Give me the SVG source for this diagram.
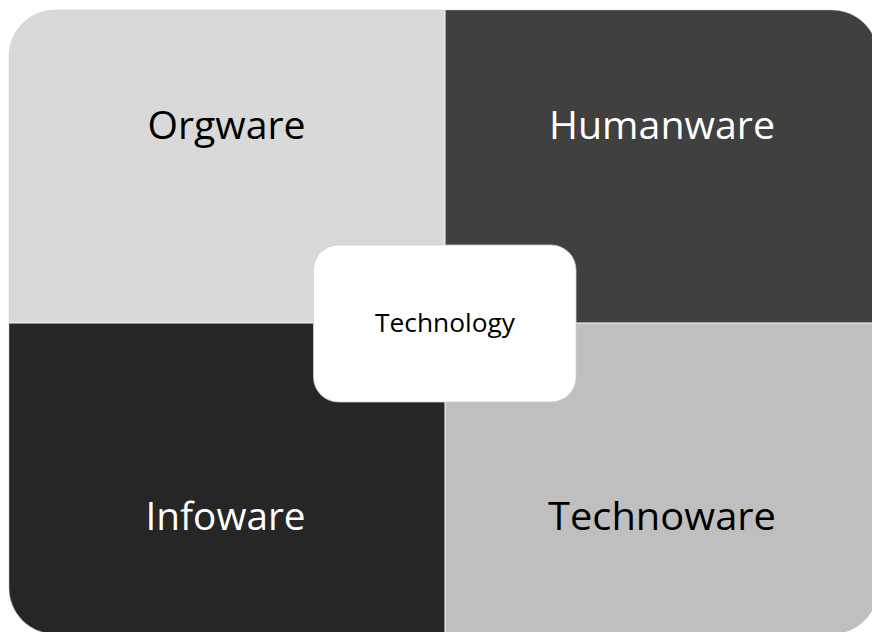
<svg xmlns="http://www.w3.org/2000/svg" width="872" height="632" viewBox="0 0 872 632">
  <style>
    .big { font-family: "Open Sans", "Noto Sans", "Liberation Sans", sans-serif; font-size: 38.5px; text-anchor: middle; }
    .dark { fill: #000000; }
    .light { fill: #ffffff; }
    .center { font-family: "Open Sans", "Noto Sans", "Liberation Sans", sans-serif; font-size: 26px; text-anchor: middle; fill: #000000; }
  </style>
  <defs>
    <clipPath id="outer">
      <rect x="9" y="10" width="869" height="624" rx="46" ry="46"/>
    </clipPath>
  </defs>
  <rect width="872" height="632" fill="#ffffff"/>
  <g clip-path="url(#outer)">
    <g id="orgware">
      <rect x="9" y="10" width="435.5" height="312.5" fill="#d9d9d9"/>
      <text class="big dark" x="226.5" y="139" textLength="158" lengthAdjust="spacingAndGlyphs">Orgware</text>
    </g>
    <g id="humanware">
      <rect x="445.5" y="10" width="432.5" height="312.5" fill="#404040"/>
      <text class="big light" x="662" y="139" textLength="226" lengthAdjust="spacingAndGlyphs">Humanware</text>
    </g>
    <g id="infoware">
      <rect x="9" y="323.5" width="435.5" height="310.5" fill="#262626"/>
      <text class="big light" x="225.5" y="530" textLength="160" lengthAdjust="spacingAndGlyphs">Infoware</text>
    </g>
    <g id="technoware">
      <rect x="445.5" y="323.5" width="432.5" height="310.5" fill="#bfbfbf"/>
      <text class="big dark" x="662" y="530" textLength="228" lengthAdjust="spacingAndGlyphs">Technoware</text>
    </g>
  </g>
  <rect x="9" y="10" width="869" height="624" rx="46" ry="46" fill="none" stroke="#c8c8c8" stroke-width="0.8" stroke-opacity="0.6"/>
  <g id="technology">
    <rect x="313.5" y="245" width="262.5" height="157" rx="25" ry="25" fill="#ffffff" stroke="#d0d0d0" stroke-width="0.8"/>
    <text class="center" x="445" y="332" textLength="140" lengthAdjust="spacingAndGlyphs">Technology</text>
  </g>
  <g id="connectors"/>
</svg>
